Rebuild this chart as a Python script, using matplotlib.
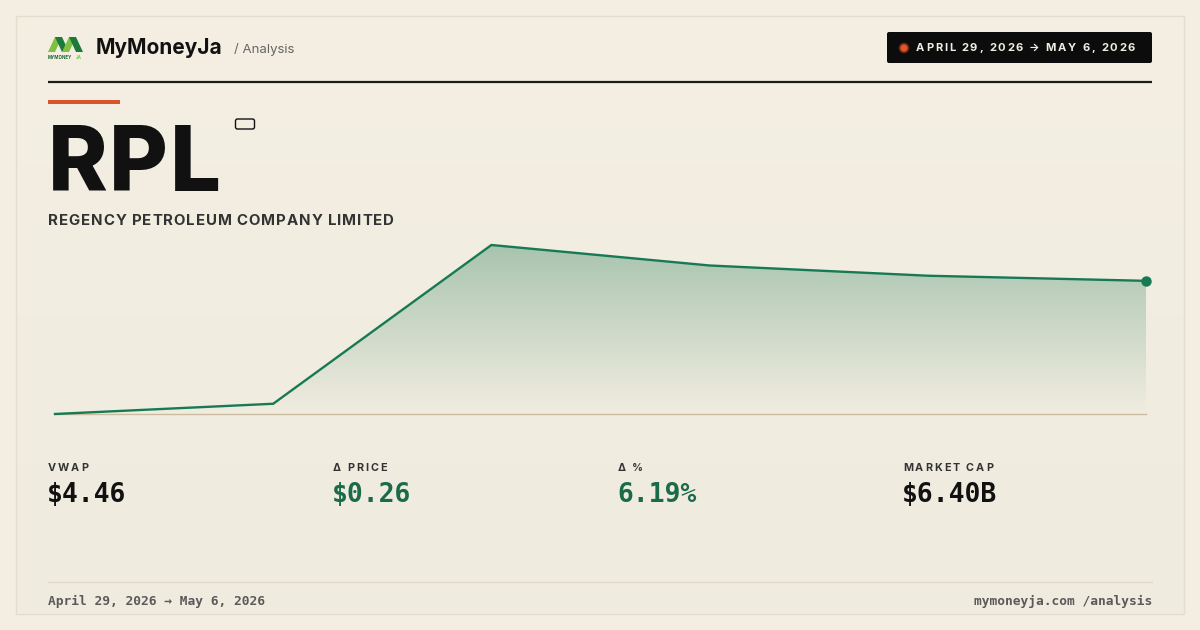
import numpy as np
import matplotlib
matplotlib.use("Agg")
import matplotlib.pyplot as plt
from matplotlib.patches import Rectangle, FancyBboxPatch, Polygon, Circle
from matplotlib.colors import LinearSegmentedColormap
from matplotlib.font_manager import FontProperties

# ---------------- data ----------------
dates = ["Apr 29", "Apr 30", "May 1", "May 4", "May 5", "May 6"]
prices = [4.20, 4.22, 4.53, 4.49, 4.47, 4.46]
ticker = "RPL"
company = "REGENCY PETROLEUM COMPANY LIMITED"
period_badge = "APRIL 29, 2026 \u2192 MAY 6, 2026"
period_footer = "April 29, 2026 \u2192 May 6, 2026"
stat_labels = ["VWAP", "\u0394 PRICE", "\u0394 %", "MARKET CAP"]
stat_values = ["$4.46", "$0.26", "6.19%", "$6.40B"]
stat_colors = ["#111111", "#1b6b4b", "#1b6b4b", "#111111"]

W, H = 1200, 630
fig = plt.figure(figsize=(W / 100, H / 100), dpi=100)
fig.patch.set_facecolor("#f3ede2")

# full-figure pixel axes
bg = fig.add_axes([0, 0, 1, 1])
bg.set_xlim(0, W)
bg.set_ylim(H, 0)
bg.axis("off")

# card with subtle vertical gradient
grad = np.linspace(0, 1, 256).reshape(-1, 1)
card_cmap = LinearSegmentedColormap.from_list("card", ["#f5efe3", "#efebdf"])
bg.imshow(grad, cmap=card_cmap, extent=[16, 1184, 614, 16], aspect="auto", zorder=0)
bg.add_patch(Rectangle((16, 16), 1168, 598, fill=False, ec="#e4ddcd", lw=1, zorder=1))
bg.set_xlim(0, W)
bg.set_ylim(H, 0)

renderer = fig.canvas.get_renderer()


def spaced(ax, x, y, s, spacing, ha="left", va="center", **kw):
    prop = FontProperties(family=kw.get("family", "Inter"), weight=kw.get("weight", "normal"),
                          size=kw.get("size", 10))
    widths = []
    for ch in s:
        w, _, _ = renderer.get_text_width_height_descent(ch, prop, ismath=False)
        widths.append(w)
    total = sum(widths) + spacing * (len(s) - 1)
    if ha == "right":
        x = x - total
    elif ha == "center":
        x = x - total / 2
    cx = x
    for ch, w in zip(s, widths):
        ax.text(cx, y, ch, ha="left", va=va, fontproperties=prop,
                color=kw.get("color", "#111"), zorder=5)
        cx += w + spacing
    return total


# ---------------- logo ----------------
light = "#7cc142"
dark = "#1d7a3a"
bg.add_patch(Polygon([(48, 52), (55, 37), (62, 37), (55, 52)], closed=True, fc=light, ec="none", zorder=3))
bg.add_patch(Polygon([(55, 37), (62, 37), (69, 52), (62, 52)], closed=True, fc=dark, ec="none", zorder=3))
bg.add_patch(Polygon([(62, 52), (69, 37), (76, 37), (69, 52)], closed=True, fc=light, ec="none", zorder=3))
bg.add_patch(Polygon([(69, 37), (76, 37), (83, 52), (76, 52)], closed=True, fc=dark, ec="none", zorder=3))
bg.text(47.5, 57.5, "MYMONEY", fontsize=3.2, fontweight="bold", color="#1d6a35", va="center", ha="left",
        family="Inter", zorder=4)
bg.text(75.5, 57.5, "JA", fontsize=3.2, fontweight="bold", color="#7cc142", va="center", ha="left",
        family="Inter", zorder=4)

bg.text(96, 48, "MyMoneyJa", fontsize=15, fontweight="bold", color="#111111", va="center", ha="left",
        family="Inter")
bg.text(234, 49, "/ Analysis", fontsize=9.5, color="#666666", va="center", ha="left", family="Inter")

# ---------------- date badge ----------------
bg.add_patch(FancyBboxPatch((887, 32), 265, 31, boxstyle="round,pad=0,rounding_size=2",
                            fc="#0d0c0c", ec="none", zorder=3))
bg.add_patch(Circle((904, 48), 4.6, fc="#e2552a", ec="#5a2414", lw=1.2, zorder=4))
spaced(bg, 916, 48, period_badge, 1.75, family="Inter", weight="bold", size=8.0, color="#f2ede4")

# rule
bg.plot([48, 1152], [82, 82], color="#1a1a1a", lw=1.6, solid_capstyle="butt", zorder=3)
# orange accent
bg.add_patch(Rectangle((48, 99.5), 72, 4, fc="#d9532b", ec="none", zorder=3))

# ticker
spaced(bg, 48, 191, ticker, 1.5, va="baseline", family="Inter", weight="heavy", size=65, color="#111111")
bg.add_patch(FancyBboxPatch((235.5, 119), 19, 10, boxstyle="round,pad=0,rounding_size=2",
                            fc="none", ec="#111111", lw=1, zorder=4))

# company name
spaced(bg, 48, 221, company, 0.9, family="Inter", weight="bold", size=10.8, color="#333333")

# ---------------- chart ----------------
x0, x1 = 55, 1146
ytop, ybot = 245, 414
cax = fig.add_axes([x0 / W, 1 - ybot / H, (x1 - x0) / W, (ybot - ytop) / H])
cax.set_facecolor("none")
cax.axis("off")
xs = np.arange(len(prices))
ymin, ymax = min(prices), max(prices)
cax.set_xlim(xs[0], xs[-1])
cax.set_ylim(ymin, ymax)

fill_cmap = LinearSegmentedColormap.from_list(
    "fill", [(0.0, (0.45, 0.66, 0.55, 0.0)), (1.0, (0.42, 0.64, 0.52, 0.55))])
g = np.linspace(0, 1, 256).reshape(-1, 1)
im = cax.imshow(g, cmap=fill_cmap, extent=[xs[0], xs[-1], ymin, ymax], origin="lower",
                aspect="auto", zorder=1, interpolation="bicubic")
poly = cax.fill_between(xs, prices, ymin, color="none", lw=0)
path = poly.get_paths()[0]
im.set_clip_path(path, transform=cax.transData)
cax.axhline(ymin, color="#cdbb9f", lw=1, zorder=2, clip_on=False)
cax.plot(xs, prices, color="#177a55", lw=1.7, zorder=3, solid_joinstyle="miter", clip_on=False)
cax.plot([xs[-1]], [prices[-1]], "o", color="#177a55", ms=6.5, zorder=4, clip_on=False)

# ---------------- stats ----------------
cols = [48, 333, 618, 903]
for cx, lab, val, colr in zip(cols, stat_labels, stat_values, stat_colors):
    spaced(bg, cx, 468, lab, 1.9, family="Inter", weight="bold", size=7.8, color="#333333")
    bg.text(cx - 1, 495, val, fontsize=19, fontweight="bold", color=colr, va="center", ha="left",
            family="DejaVu Sans Mono")

# ---------------- footer ----------------
bg.plot([48, 1152], [582, 582], color="#e0d8c8", lw=1, zorder=3)
bg.text(48, 601, period_footer, fontsize=9.3, fontweight="bold", color="#5a5a5a", va="center", ha="left",
        family="DejaVu Sans Mono")
bg.text(1152, 601, "mymoneyja.com /analysis", fontsize=9.3, fontweight="bold", color="#5a5a5a",
        va="center", ha="right", family="DejaVu Sans Mono")

fig.savefig("out.png", dpi=100, facecolor=fig.get_facecolor())
